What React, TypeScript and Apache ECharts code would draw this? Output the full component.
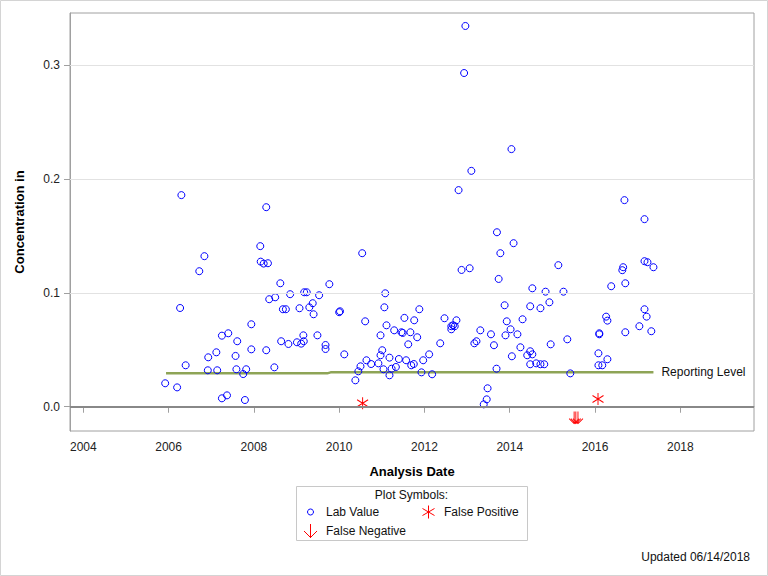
import React, { useEffect, useRef } from "react";
import * as echarts from "echarts";

// [decimal year, concentration]
const labValues: [number, number][] = [
  [2005.92, 0.0206], [2006.20, 0.0170], [2006.27, 0.0867], [2006.30, 0.1858], [2006.40, 0.0364],
  [2006.72, 0.1190], [2006.84, 0.1322], [2006.92, 0.0320], [2006.93, 0.0434], [2007.12, 0.0478],
  [2007.14, 0.0320], [2007.25, 0.0624], [2007.25, 0.0074], [2007.37, 0.0100], [2007.40, 0.0645],
  [2007.57, 0.0446], [2007.59, 0.0329], [2007.61, 0.0575], [2007.75, 0.0287], [2007.79, 0.0059],
  [2007.82, 0.0329], [2007.94, 0.0724], [2007.94, 0.0504],
  [2008.15, 0.1410], [2008.16, 0.1274], [2008.23, 0.1257], [2008.29, 0.1752], [2008.29, 0.0496],
  [2008.33, 0.1260], [2008.36, 0.0944], [2008.48, 0.0346], [2008.50, 0.0961], [2008.62, 0.1084],
  [2008.64, 0.0575], [2008.68, 0.0856], [2008.75, 0.0856], [2008.81, 0.0551], [2008.85, 0.0988],
  [2009.01, 0.0566], [2009.07, 0.0865], [2009.11, 0.0554], [2009.16, 0.0627], [2009.17, 0.0575],
  [2009.18, 0.1005], [2009.24, 0.1005], [2009.30, 0.0873], [2009.38, 0.0909], [2009.40, 0.0812],
  [2009.49, 0.0627], [2009.53, 0.0979], [2009.68, 0.0542], [2009.68, 0.0507], [2009.77, 0.1076],
  [2010.00, 0.0830], [2010.02, 0.0838], [2010.12, 0.0460], [2010.38, 0.0232], [2010.45, 0.0311],
  [2010.50, 0.0355], [2010.54, 0.1348], [2010.61, 0.0750], [2010.64, 0.0408], [2010.75, 0.0375],
  [2010.92, 0.0381], [2010.97, 0.0627], [2010.97, 0.0452], [2011.01, 0.0496], [2011.04, 0.0329],
  [2011.06, 0.0873], [2011.08, 0.0996], [2011.11, 0.0715], [2011.18, 0.0431], [2011.18, 0.0276],
  [2011.23, 0.0334], [2011.29, 0.0671], [2011.33, 0.0349], [2011.40, 0.0419], [2011.46, 0.0654],
  [2011.49, 0.0648], [2011.53, 0.0780], [2011.57, 0.0408], [2011.62, 0.0548], [2011.67, 0.0654],
  [2011.69, 0.0364], [2011.75, 0.0375], [2011.76, 0.0759],
  [2011.83, 0.0610], [2011.88, 0.0856], [2011.93, 0.0302], [2011.97, 0.0408], [2012.11, 0.0460],
  [2012.18, 0.0285], [2012.37, 0.0557], [2012.47, 0.0777], [2012.63, 0.0707], [2012.63, 0.0680],
  [2012.67, 0.0715], [2012.71, 0.0707], [2012.75, 0.0759], [2012.80, 0.1902], [2012.87, 0.1201],
  [2012.93, 0.2930], [2012.96, 0.3343], [2013.06, 0.1216], [2013.10, 0.2071], [2013.17, 0.0557],
  [2013.22, 0.0575], [2013.31, 0.0671], [2013.39, 0.0021], [2013.46, 0.0065], [2013.48, 0.0162],
  [2013.56, 0.0636], [2013.63, 0.0540], [2013.69, 0.0334], [2013.70, 0.1532], [2013.74, 0.1122],
  [2013.78, 0.1348],
  [2013.88, 0.0891], [2013.90, 0.0627], [2013.93, 0.0750], [2014.02, 0.0680], [2014.04, 0.2262],
  [2014.05, 0.0443], [2014.09, 0.1436], [2014.18, 0.0636], [2014.25, 0.0522], [2014.30, 0.0768],
  [2014.41, 0.0452], [2014.48, 0.0882], [2014.48, 0.0487], [2014.48, 0.0373], [2014.53, 0.1040],
  [2014.53, 0.0460], [2014.62, 0.0381], [2014.72, 0.0865], [2014.72, 0.0373], [2014.81, 0.0373],
  [2014.84, 0.1010], [2014.93, 0.0917], [2014.96, 0.0548], [2015.14, 0.1243], [2015.26, 0.1010],
  [2015.35, 0.0592], [2015.42, 0.0293],
  [2016.08, 0.0469], [2016.08, 0.0364], [2016.10, 0.0645], [2016.10, 0.0636], [2016.17, 0.0364],
  [2016.26, 0.0791], [2016.29, 0.0756], [2016.29, 0.0417], [2016.38, 0.1058], [2016.64, 0.1199],
  [2016.66, 0.1225], [2016.69, 0.1814], [2016.71, 0.1084], [2016.71, 0.0654], [2017.04, 0.0707],
  [2017.16, 0.1647], [2017.16, 0.1278], [2017.16, 0.0856], [2017.21, 0.0791], [2017.23, 0.1269],
  [2017.32, 0.0663], [2017.37, 0.1225],
];

const falsePositives: [number, number][] = [
  [2010.55, 0.003],
  [2016.07, 0.0068],
];

const falseNegativeDates: number[] = [2015.51, 2015.55, 2015.6];

const reportingLevel: [number, number][] = [
  [2005.94, 0.0293],
  [2009.72, 0.0293],
  [2009.8, 0.0302],
  [2017.37, 0.0302],
];

const xTicks: number[] = [2004, 2006, 2008, 2010, 2012, 2014, 2016, 2018];
const yTicks: number[] = [0, 0.1, 0.2, 0.3];

const FONT = '"Liberation Sans", Arial, sans-serif';
const ASTERISK = "path://M5.5,0 L5.5,12 M0,2.5 L11,9.5 M11,2.5 L0,9.5";
const ARROW = "path://M5,0 L5,12 M0,7 L5,12 L10,7";

export default function App() {
  const ref = useRef<HTMLDivElement>(null);

  useEffect(() => {
    if (!ref.current) return;
    const chart = echarts.init(ref.current, null, { renderer: "svg" });
    const arrowY = -0.0095;

    chart.setOption({
      animation: false,
      backgroundColor: "#ffffff",
      textStyle: { fontFamily: FONT },
      grid: {
        left: 70,
        right: 14,
        top: 13,
        bottom: 145,
        show: true,
        borderColor: "#a0a0a0",
        borderWidth: 1,
        backgroundColor: "transparent",
      },
      xAxis: {
        type: "value",
        min: 2003.688,
        max: 2019.728,
        name: "Analysis Date",
        nameLocation: "middle",
        nameGap: 34,
        nameTextStyle: { fontFamily: FONT, fontSize: 13, fontWeight: "bold", color: "#000" },
        axisLine: { show: true, lineStyle: { color: "#a0a0a0" } },
        axisTick: { show: true, length: 6, lineStyle: { color: "#a0a0a0" }, customValues: xTicks },
        axisLabel: {
          customValues: xTicks,
          fontFamily: FONT,
          fontSize: 12,
          color: "#222",
          margin: 10,
          formatter: (v: number) => String(Math.round(v)),
        },
        splitLine: { show: false },
      },
      yAxis: {
        type: "value",
        min: -0.0213,
        max: 0.3457,
        name: "Concentration in",
        nameLocation: "middle",
        nameGap: 44,
        nameRotate: 90,
        nameTextStyle: { fontFamily: FONT, fontSize: 13, fontWeight: "bold", color: "#000" },
        axisLine: { show: true, lineStyle: { color: "#a0a0a0" } },
        axisTick: { show: true, length: 6, lineStyle: { color: "#a0a0a0" }, customValues: yTicks },
        axisLabel: {
          customValues: yTicks,
          fontFamily: FONT,
          fontSize: 12,
          color: "#222",
          margin: 10,
          formatter: (v: number) => v.toFixed(1),
        },
        splitLine: { show: false },
      },
      series: [
        {
          name: "Reporting Level",
          type: "line",
          z: 1,
          data: reportingLevel,
          showSymbol: false,
          symbol: "none",
          lineStyle: { color: "#8ea456", width: 2.5 },
          endLabel: {
            show: true,
            formatter: "Reporting Level",
            distance: 8,
            fontFamily: FONT,
            fontSize: 12,
            color: "#111",
          },
          markLine: {
            silent: true,
            symbol: "none",
            label: { show: false },
            data: [
              { yAxis: 0.1, lineStyle: { color: "#e2e2e2", width: 1, type: "solid" } },
              { yAxis: 0.2, lineStyle: { color: "#e2e2e2", width: 1, type: "solid" } },
              { yAxis: 0.3, lineStyle: { color: "#e2e2e2", width: 1, type: "solid" } },
              { yAxis: 0, lineStyle: { color: "#888888", width: 2, type: "solid" } },
            ],
          },
        },
        {
          name: "Lab Value",
          type: "scatter",
          z: 3,
          data: labValues,
          symbol: "circle",
          symbolSize: 7,
          itemStyle: { color: "rgba(0,0,0,0)", borderColor: "#0000ff", borderWidth: 1, opacity: 1 },
        },
        {
          name: "False Positive",
          type: "scatter",
          z: 4,
          data: falsePositives,
          symbol: ASTERISK,
          symbolSize: [11, 12],
          itemStyle: { color: "rgba(0,0,0,0)", borderColor: "#ff0000", borderWidth: 1, opacity: 1 },
        },
        {
          name: "False Negative",
          type: "scatter",
          z: 4,
          data: falseNegativeDates.map((d) => [d, arrowY]),
          symbol: ARROW,
          symbolSize: [10, 12],
          itemStyle: { color: "rgba(0,0,0,0)", borderColor: "#ff0000", borderWidth: 1, opacity: 1 },
        },
      ],
      graphic: [
        {
          type: "rect",
          silent: true,
          shape: { x: 0.5, y: 0.5, width: 767, height: 575 },
          style: { fill: "none", stroke: "#d4d4d4", lineWidth: 1 },
        },
        {
          type: "group",
          silent: true,
          children: [
            {
              type: "rect",
              shape: { x: 296.5, y: 486.5, width: 231, height: 54 },
              style: { fill: "#fff", stroke: "#c8c8c8", lineWidth: 1 },
            },
            {
              type: "text",
              style: {
                text: "Plot Symbols:", x: 411.5, y: 494.5, align: "center", verticalAlign: "middle",
                fontFamily: FONT, fontSize: 12, fill: "#111",
              },
            },
            {
              type: "circle",
              shape: { cx: 310.5, cy: 512, r: 3 },
              style: { fill: "none", stroke: "#0000ff", lineWidth: 1 },
            },
            {
              type: "text",
              style: {
                text: "Lab Value", x: 326, y: 512, align: "left", verticalAlign: "middle",
                fontFamily: FONT, fontSize: 12, fill: "#111",
              },
            },
            { type: "line", shape: { x1: 428.5, y1: 505.5, x2: 428.5, y2: 518.5 }, style: { stroke: "#ff0000", lineWidth: 1 } },
            { type: "line", shape: { x1: 422.5, y1: 508.5, x2: 434.5, y2: 515.5 }, style: { stroke: "#ff0000", lineWidth: 1 } },
            { type: "line", shape: { x1: 434.5, y1: 508.5, x2: 422.5, y2: 515.5 }, style: { stroke: "#ff0000", lineWidth: 1 } },
            {
              type: "text",
              style: {
                text: "False Positive", x: 444, y: 512, align: "left", verticalAlign: "middle",
                fontFamily: FONT, fontSize: 12, fill: "#111",
              },
            },
            { type: "line", shape: { x1: 310.5, y1: 524, x2: 310.5, y2: 538 }, style: { stroke: "#ff0000", lineWidth: 1 } },
            {
              type: "polyline",
              shape: { points: [[304, 531], [310.5, 537.5], [317, 531]] },
              style: { fill: "none", stroke: "#ff0000", lineWidth: 1 },
            },
            {
              type: "text",
              style: {
                text: "False Negative", x: 326, y: 531, align: "left", verticalAlign: "middle",
                fontFamily: FONT, fontSize: 12, fill: "#111",
              },
            },
          ],
        },
        {
          type: "text",
          silent: true,
          style: {
            text: "Updated 06/14/2018", x: 750, y: 557, align: "right", verticalAlign: "middle",
            fontFamily: FONT, fontSize: 12, fill: "#111",
          },
        },
      ],
    });

    return () => chart.dispose();
  }, []);

  return (
    <div
      ref={ref}
      style={{ position: "absolute", left: 0, top: 0, width: 768, height: 576 }}
    />
  );
}
